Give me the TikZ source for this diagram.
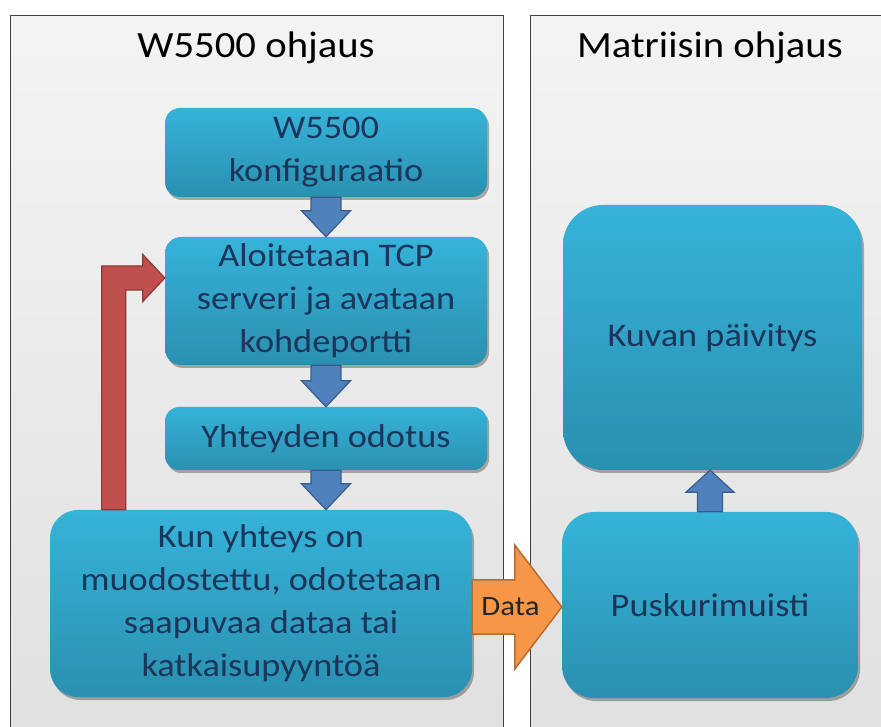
\documentclass[tikz,border=0pt]{standalone}
\usepackage{fontspec}
\setmainfont{Carlito}[FakeStretch=1.1]
\usetikzlibrary{calc,shadows}
\definecolor{boxtop}{HTML}{36B3D9}
\definecolor{boxbot}{HTML}{2A90B0}
\definecolor{boxtxt}{HTML}{1C355B}
\definecolor{panelbd}{HTML}{404040}
\definecolor{bluef}{HTML}{4F81BD}
\definecolor{blued}{HTML}{385D8A}
\definecolor{redf}{HTML}{C0504D}
\definecolor{redd}{HTML}{8C3836}
\definecolor{oranf}{HTML}{F79646}
\definecolor{orand}{HTML}{B66D31}
\tikzset{
  panel/.style={draw=panelbd, line width=1pt, top color=gray!9, bottom color=gray!24},
  paneltitle/.style={anchor=base, inner sep=0pt, font=\fontsize{37}{43}\selectfont, text=black},
  flowbox/.style={draw=none, top color=boxtop, bottom color=boxbot, text=boxtxt,
    align=center, inner sep=0pt, font=\fontsize{33}{43}\selectfont,
    drop shadow={shadow xshift=2pt, shadow yshift=-3pt, opacity=0.3, fill=black}},
  bluearrow/.style={fill=bluef, draw=blued, line width=1.2pt, line join=miter},
  redarrow/.style={fill=redf, draw=redd, line width=1.2pt, line join=miter},
  orangearrow/.style={fill=oranf, draw=orand, line width=1.5pt, line join=miter},
  arrowlabel/.style={anchor=west, inner sep=0pt, text=black!85, font=\fontsize{28}{32}\selectfont}
}
\begin{document}
\begin{tikzpicture}[x=1pt,y=1pt]
\useasboundingbox (0,0) rectangle (881,726);
\clip (0,0) rectangle (881,726);
\fill[white] (0,0) rectangle (881,726);
% panels
\draw[panel] (10,-5) rectangle (503,710);
\draw[panel] (530,-5) rectangle (895,710);
\node[paneltitle] (t1) at (256,668) {W5500 ohjaus};
\node[paneltitle] (t2) at (710,668) {Matriisin ohjaus};
% boxes
\node[flowbox, rounded corners=15pt, minimum width=322pt, minimum height=89pt] (b1) at (326,573.5) {W5500\\konfiguraatio};
\node[flowbox, rounded corners=16pt, minimum width=322pt, minimum height=128pt] (b2) at (326,425) {Aloitetaan TCP\\serveri ja avataan\\kohdeportti};
\node[flowbox, rounded corners=14pt, minimum width=322pt, minimum height=63pt] (b3) at (326,287.5) {Yhteyden odotus};
\node[flowbox, rounded corners=28pt, minimum width=422pt, minimum height=187pt] (b4) at (261,122.5) {Kun yhteys on\\muodostettu, odotetaan\\saapuvaa dataa tai\\katkaisupyyntöä};
\node[flowbox, rounded corners=40pt, minimum width=299pt, minimum height=265pt] (k) at (712.5,388.5) {Kuvan päivitys};
\node[flowbox, rounded corners=32pt, minimum width=296pt, minimum height=186pt] (p) at (710,121) {Puskurimuisti};
% blue down arrows
\foreach \a/\b in {b1/b2, b2/b3, b3/b4}{
  \coordinate (tip) at (\a.south |- \b.north);
  \draw[bluearrow] ($(\a.south)+(-15,0)$) -- ($(tip)+(-15,26)$) -- ($(tip)+(-24.5,26)$) -- (tip) -- ($(tip)+(24.5,26)$) -- ($(tip)+(15,26)$) -- ($(\a.south)+(15,0)$) -- cycle;
}
% blue up arrow
\coordinate (uptip) at (p.north |- k.south);
\draw[bluearrow] ($(p.north)+(-12.5,0)$) -- ($(uptip)+(-12.5,-22)$) -- ($(uptip)+(-24,-22)$) -- (uptip) -- ($(uptip)+(24,-22)$) -- ($(uptip)+(12.5,-22)$) -- ($(p.north)+(12.5,0)$) -- cycle;
% red feedback arrow
\coordinate (rt) at ($(b2.west)+(0,23)$);
\coordinate (rb) at ($(b4.north west)+(52,0)$);
\coordinate (rb2) at ($(b4.north west)+(76,0)$);
\coordinate (rtU) at ($(rt)+(0,12)$);
\coordinate (rtD) at ($(rt)+(0,-12)$);
\draw[redarrow] (rb) -- (rb |- rtU) -- ($(rt)+(-22,12)$) -- ($(rt)+(-22,23.5)$) -- (rt) -- ($(rt)+(-22,-23.5)$) -- ($(rt)+(-22,-12)$) -- (rb2 |- rtD) -- (rb2) -- cycle;
% orange data arrow
\coordinate (ot) at ($(p.west)+(0,-2)$);
\coordinate (oa) at (b4.east |- ot);
\draw[orangearrow] ($(oa)+(0,27)$) -- ($(ot)+(-47,27)$) -- ($(ot)+(-47,62)$) -- (ot) -- ($(ot)+(-47,-62)$) -- ($(ot)+(-47,-27)$) -- ($(oa)+(0,-27)$) -- cycle;
\node[arrowlabel] (data) at ($(oa)+(9,0)$) {Data};
\end{tikzpicture}
\end{document}
